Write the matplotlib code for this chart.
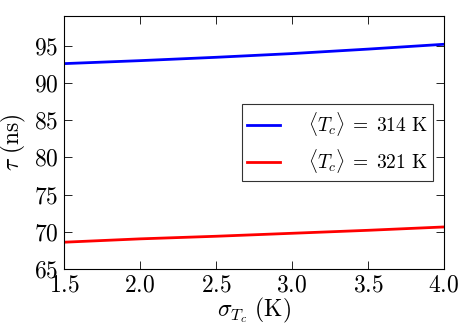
import numpy as np
import matplotlib
matplotlib.use("Agg")
import matplotlib.pyplot as plt

# sigma_Tc (K)
sigma = [1.5, 2.0, 2.5, 3.0, 3.5, 4.0]
# tau (ns) for two mean Tc values
tau_314 = [92.6, 93.0, 93.45, 93.95, 94.55, 95.2]
tau_321 = [68.6, 69.05, 69.4, 69.8, 70.2, 70.65]
labels = [r'$\langle T_c \rangle \;=\; 314\ \mathrm{K}$',
          r'$\langle T_c \rangle \;=\; 321\ \mathrm{K}$']
xticks = [1.5, 2.0, 2.5, 3.0, 3.5, 4.0]
yticks = [65, 70, 75, 80, 85, 90, 95]

plt.rcParams['mathtext.fontset'] = 'cm'
plt.rcParams['font.family'] = 'serif'
plt.rcParams['font.serif'] = ['cmr10', 'DejaVu Serif']
plt.rcParams['axes.formatter.use_mathtext'] = True

fig = plt.figure(figsize=(4.63, 3.29), dpi=100)
ax = fig.add_axes([64/463, 1 - 269/329, 380/463, 253/329])

ax.plot(sigma, tau_314, color='#0000ff', lw=2, label=labels[0])
ax.plot(sigma, tau_321, color='#ff0000', lw=2, label=labels[1])

ax.set_xlim(1.5, 4.0)
ax.set_ylim(65, 99)
ax.set_xticks(xticks)
ax.set_yticks(yticks)
ax.set_xticklabels([r'$%.1f$' % v for v in xticks], fontsize=17)
ax.set_yticklabels([r'$%d$' % v for v in yticks], fontsize=17)
ax.tick_params(direction='in', top=True, right=True, length=6, width=0.6, pad=4)
for s in ax.spines.values():
    s.set_linewidth(0.8)

ax.set_xlabel(r'$\sigma_{T_c}\ (\mathrm{K})$', fontsize=17, labelpad=-1)
ax.set_ylabel(r'$\tau\ (\mathrm{ns})$', fontsize=17, labelpad=4)

leg = ax.legend(loc='center right', bbox_to_anchor=(0.971, 0.5), fontsize=14,
                frameon=True, fancybox=False, handlelength=1.7, handletextpad=1.4,
                borderpad=0.3, labelspacing=0.45, borderaxespad=0)
leg.get_frame().set_edgecolor('black')
leg.get_frame().set_linewidth(0.8)

fig.savefig('out.png', dpi=100)
